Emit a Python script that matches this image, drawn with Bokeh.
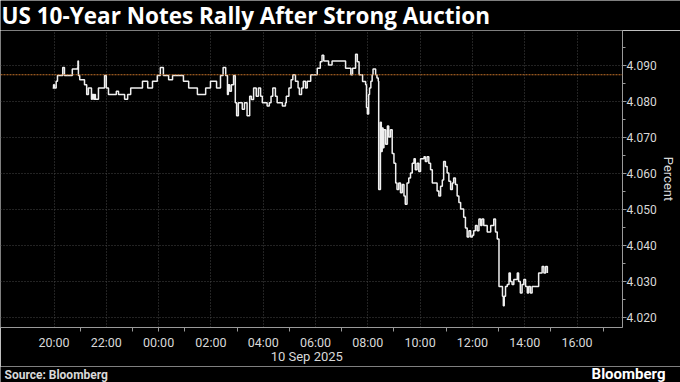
from bokeh.plotting import figure
from bokeh.layouts import column
from bokeh.models import (Span, FixedTicker, PrintfTickFormatter, Range1d, ColumnDataSource,
                          LinearAxis, CustomJSTickFormatter)
from bokeh.core.properties import value
from bokeh.embed import file_html
from bokeh.resources import INLINE

TITLE = "US 10-Year Notes Rally After Strong Auction"
SOURCE = "Source: Bloomberg"
BRAND = "Bloomberg"
DATE_LABEL = "10 Sep 2025"
Y_LABEL = "Percent"

# intraday US 10-year yield, Sep 9 evening -> Sep 10 afternoon (HH:MM, step changes)
times = [
    "19:57", "19:59", "20:01", "20:05", "20:08", "20:20", "20:24", "20:42", "20:54", "20:55", "20:56", "20:59",
    "21:10", "21:15", "21:19", "21:26", "21:28", "21:31", "21:33", "21:35", "21:42", "21:56", "22:00", "22:05",
    "22:23", "22:28", "22:42", "22:49", "22:56", "23:23", "23:35", "23:46", "23:57",
    "00:04", "00:11", "00:23", "00:32", "00:57", "01:09", "01:29", "01:48", "01:59", "02:13", "02:22", "02:28",
    "02:34", "02:38", "02:40", "02:43", "02:47", "02:52",
    "02:56", "02:59", "03:03", "03:12", "03:17", "03:23", "03:29", "03:33", "03:38", "03:44", "03:49", "03:54", "03:58",
    "04:09", "04:14", "04:18", "04:22", "04:28", "04:32", "04:44", "04:51", "04:53", "04:59",
    "05:04", "05:08", "05:14", "05:20", "05:23", "05:28", "05:32", "05:37", "05:41", "05:49",
    "06:04", "06:11", "06:15", "06:19", "06:30", "06:38",
    "07:09", "07:21", "07:25", "07:32", "07:36", "07:40", "07:48", "07:55", "07:57", "07:59",
    "08:02", "08:04", "08:07", "08:10", "08:12", "08:18", "08:21", "08:24", "08:25", "08:29", "08:31", "08:33",
    "08:35", "08:37", "08:41", "08:45", "08:48", "08:52", "08:56",
    "09:00", "09:04", "09:07", "09:11", "09:15", "09:19", "09:23", "09:26", "09:30", "09:34", "09:38", "09:42",
    "09:46", "09:49", "09:53", "09:57",
    "10:01", "10:09", "10:12", "10:16", "10:20", "10:24", "10:28", "10:39", "10:43", "10:47", "10:51", "10:54", "10:58",
    "11:02", "11:06", "11:10", "11:14", "11:17", "11:21", "11:25", "11:29", "11:33", "11:40", "11:44", "11:48",
    "11:52", "11:56",
    "12:00", "12:03", "12:07", "12:11", "12:15", "12:19", "12:22", "12:26", "12:34", "12:42", "12:49", "12:53", "12:57",
    "13:01", "13:09", "13:11", "13:13", "13:16", "13:20", "13:24", "13:27", "13:31", "13:35", "13:43", "13:46",
    "13:50", "13:54", "13:58",
    "14:02", "14:06", "14:09", "14:13", "14:17", "14:32", "14:40", "14:44", "14:48", "14:52",
]
yields = [
    4.0836, 4.0845, 4.0836, 4.0855, 4.0871, 4.0893, 4.0871, 4.0889, 4.0893, 4.0911, 4.0871, 4.0859,
    4.0845, 4.0818, 4.0836, 4.0805, 4.0818, 4.0805, 4.0818, 4.0805, 4.0836, 4.0871, 4.0836, 4.0818,
    4.0827, 4.0818, 4.0805, 4.0818, 4.0836, 4.0855, 4.0836, 4.0855, 4.0871,
    4.0893, 4.0871, 4.0859, 4.0871, 4.0855, 4.0836, 4.0818, 4.0836, 4.0855, 4.0836, 4.0871, 4.0893,
    4.0871, 4.0818, 4.0845, 4.0827, 4.0845, 4.0871,
    4.0795, 4.0759, 4.0795, 4.0777, 4.0795, 4.0759, 4.0813, 4.0804, 4.0836, 4.0813, 4.0836, 4.0813, 4.0795,
    4.0786, 4.0795, 4.0813, 4.0836, 4.0813, 4.0795, 4.0786, 4.0795, 4.0813, 4.0836,
    4.0859, 4.0873, 4.0855, 4.0836, 4.0818, 4.0836, 4.0855, 4.0836, 4.0855, 4.0873,
    4.0891, 4.0909, 4.0927, 4.0911, 4.0900, 4.0911,
    4.0891, 4.0873, 4.0891, 4.0930, 4.0909, 4.0873, 4.0854, 4.0845, 4.0782, 4.0764,
    4.0818, 4.0836, 4.0855, 4.0873, 4.0889, 4.0873, 4.0864, 4.0855, 4.0554, 4.0741, 4.0660, 4.0725,
    4.0670, 4.0720, 4.0680, 4.0731, 4.0700, 4.0720, 4.0654,
    4.0627, 4.0572, 4.0554, 4.0572, 4.0545, 4.0568, 4.0536, 4.0513, 4.0572, 4.0586, 4.0600, 4.0627,
    4.0640, 4.0609, 4.0627, 4.0604,
    4.0640, 4.0645, 4.0632, 4.0645, 4.0627, 4.0609, 4.0572, 4.0550, 4.0536, 4.0563, 4.0581, 4.0632, 4.0618,
    4.0600, 4.0577, 4.0554, 4.0572, 4.0586, 4.0568, 4.0536, 4.0518, 4.0500, 4.0477, 4.0447, 4.0422,
    4.0440, 4.0422,
    4.0427, 4.0440, 4.0454, 4.0440, 4.0472, 4.0454, 4.0472, 4.0454, 4.0436, 4.0454, 4.0472, 4.0436, 4.0417,
    4.0285, 4.0258, 4.0231, 4.0258, 4.0285, 4.0290, 4.0322, 4.0299, 4.0290, 4.0304, 4.0322, 4.0299,
    4.0267, 4.0290, 4.0304,
    4.0285, 4.0267, 4.0285, 4.0267, 4.0285, 4.0322, 4.0340, 4.0322, 4.0340, 4.0322,
]
reference_level = 4.0873  # dotted orange line

x_tick_labels = ["20:00", "22:00", "00:00", "02:00", "04:00", "06:00", "08:00",
                 "10:00", "12:00", "14:00", "16:00"]
y_ticks = [4.020, 4.030, 4.040, 4.050, 4.060, 4.070, 4.080, 4.090]
y_minor_ticks = [4.015, 4.025, 4.035, 4.045, 4.055, 4.065, 4.075, 4.085, 4.095]


def to_hours(hm):
    """Hours since 2025-09-09 00:00 (times before 18:00 belong to Sep 10)."""
    h, m = int(hm[:2]), int(hm[3:])
    return h + m / 60.0 + (24 if h < 18 else 0)


src = ColumnDataSource(data=dict(t=[to_hours(t) for t in times], v=yields))

x_tick_pos = [int(round(to_hours(t))) for t in x_tick_labels]
x_minor = [pos + 1 for pos in x_tick_pos] + [to_hours("00:00")]

W = 680
HEAD_H, MAIN_H, FOOT_H = 30, 336, 16
RIGHT, BOTTOM = 58, 34
frame_w = W - RIGHT
frame_h = MAIN_H - BOTTOM
px_per_hour = 26.15
px_per_unit = 3660.0
x_start = to_hours("20:00") - 53.5 / px_per_hour
x_end = x_start + frame_w / px_per_hour
y_top = 4.0996
y_bottom = y_top - frame_h / px_per_unit

BG = "#000000"
TXT = "#d9d9d9"
AXIS = "#9a9a9a"
GRID = "#474747"
FONT = "Roboto"

# ---------- header (title) ----------
head = figure(width=W, height=HEAD_H, output_backend="svg", toolbar_location=None,
              x_range=Range1d(0, W), y_range=Range1d(0, HEAD_H),
              x_axis_type=None, y_axis_type=None, min_border=0, frame_align=False,
              background_fill_color=BG, border_fill_color=BG, outline_line_color=None)
head.grid.visible = False
head.text(x=[1], y=[15], text=[TITLE], text_font=value("Open Sans"), text_font_style="bold",
          text_font_size="22.5px", text_color="#ffffff", text_baseline="middle")

# ---------- main chart ----------
p = figure(width=W, height=MAIN_H, output_backend="svg", toolbar_location=None,
           y_axis_location="right", frame_align=False,
           x_range=Range1d(x_start, x_end), y_range=Range1d(y_bottom, y_top),
           min_border_left=0, min_border_right=RIGHT, min_border_top=0, min_border_bottom=BOTTOM,
           background_fill_color=BG, border_fill_color=BG, outline_line_color=None)

p.xgrid.grid_line_color = GRID
p.xgrid.grid_line_dash = "1 2"
p.ygrid.grid_line_color = GRID
p.ygrid.grid_line_dash = "1 2"

xt = FixedTicker(ticks=x_tick_pos, minor_ticks=x_minor)
p.xaxis.ticker = xt
p.xgrid.ticker = xt
p.xaxis.major_label_overrides = {pos: lbl for pos, lbl in zip(x_tick_pos, x_tick_labels)}
p.xaxis.axis_line_color = AXIS
p.xaxis.major_tick_out = 0
p.xaxis.major_tick_in = 0
p.xaxis.minor_tick_out = 4
p.xaxis.minor_tick_in = 0
p.xaxis.minor_tick_line_color = AXIS
p.xaxis.major_label_standoff = 3
p.xaxis.major_label_text_color = TXT
p.xaxis.major_label_text_font = FONT
p.xaxis.major_label_text_font_size = "12.5px"

# date line under the hour labels
date_axis = LinearAxis(ticker=FixedTicker(ticks=[to_hours("05:40")], minor_ticks=[]),
                       formatter=CustomJSTickFormatter(args=dict(lbl=DATE_LABEL), code="return lbl"),
                       axis_line_color=None, major_tick_out=0, major_tick_in=0,
                       minor_tick_out=0, minor_tick_in=0, major_label_standoff=-4,
                       major_label_text_color=TXT, major_label_text_font=FONT,
                       major_label_text_font_size="13px")
p.add_layout(date_axis, "below")

yt = FixedTicker(ticks=y_ticks, minor_ticks=y_minor_ticks)
p.yaxis.ticker = yt
p.ygrid.ticker = yt
p.yaxis.formatter = PrintfTickFormatter(format="%.3f")
p.yaxis.axis_line_color = AXIS
p.yaxis.major_tick_line_color = AXIS
p.yaxis.minor_tick_line_color = AXIS
p.yaxis.major_tick_in = 0
p.yaxis.major_tick_out = 4
p.yaxis.minor_tick_in = 0
p.yaxis.minor_tick_out = 3
p.yaxis.major_label_standoff = 0
p.yaxis.major_label_text_color = TXT
p.yaxis.major_label_text_font = FONT
p.yaxis.major_label_text_font_size = "12px"
p.yaxis.axis_label = Y_LABEL
p.yaxis.axis_label_standoff = 1
p.yaxis.axis_label_text_color = TXT
p.yaxis.axis_label_text_font = FONT
p.yaxis.axis_label_text_font_style = "normal"
p.yaxis.axis_label_text_font_size = "13px"

p.add_layout(Span(location=reference_level, dimension="width", line_color="#c4722a",
                  line_dash="2 1", line_width=1.2))
p.step(x="t", y="v", source=src, mode="after", line_color="#f0f0f0", line_width=1.5)

# ---------- footer ----------
foot = figure(width=W, height=FOOT_H, output_backend="svg", toolbar_location=None,
              x_range=Range1d(0, W), y_range=Range1d(0, FOOT_H),
              x_axis_type=None, y_axis_type=None, min_border=0, frame_align=False,
              background_fill_color=BG, border_fill_color=BG, outline_line_color=None)
foot.grid.visible = False
foot.text(x=[4], y=[8], text=[SOURCE], text_font=value(FONT), text_font_style="bold",
          text_font_size="12px", text_color=TXT, text_baseline="middle")
foot.text(x=[665], y=[9], text=[BRAND], text_font=value(FONT), text_font_style="bold",
          text_font_size="15px", text_color="#ffffff", text_align="right", text_baseline="middle")

layout = column(head, p, foot, spacing=0)
open("out.html", "w").write(file_html(layout, INLINE))
